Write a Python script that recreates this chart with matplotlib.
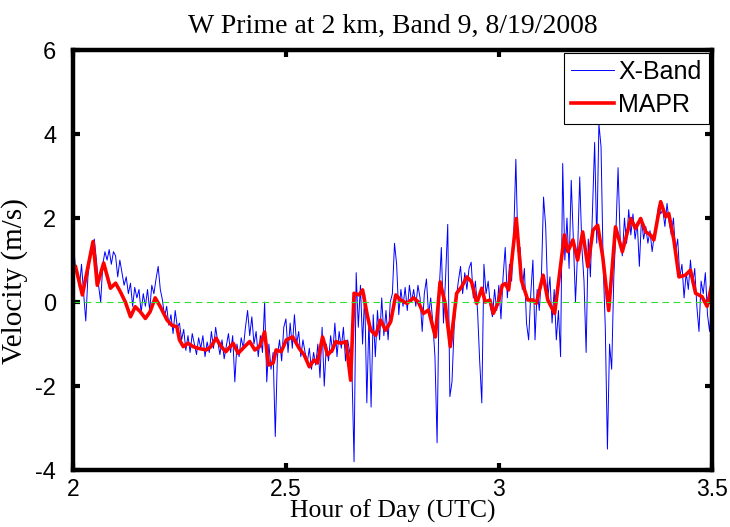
import numpy as np
import matplotlib
matplotlib.use('Agg')
import matplotlib.pyplot as plt

# X-Band samples, every 0.005 h from 2.0 to 3.5
xband_start = 2.0
xband_step = 0.005
xband_vel = [
    1.55, 0.9, 0.7, 0.35, 0.9, 0.2, -0.45, 0.6, 1.1, 1.3,
    1.5, 1.0, 0.4, 0.0, 0.9, 1.2, 1.0, 1.25, 0.9, 1.2,
    1.1, 0.6, 1.0, 0.7, 0.4, 0.6, 0.2, 0.45, -0.1, 0.35,
    0.1, 0.3, -0.25, 0.2, -0.1, 0.3, -0.2, 0.4, 0.2, 0.55,
    0.85, 0.3, 0.05, -0.35, -0.1, -0.55, -0.3, -0.75, -0.2, -0.6,
    -0.5, -0.9, -0.65, -1.15, -0.8, -1.2, -0.75, -1.0, -1.25, -0.85,
    -1.1, -0.8, -1.3, -0.95, -1.2, -0.7, -1.1, -0.6, -0.95, -1.25,
    -0.9, -1.35, -1.05, -0.75, -1.2, -0.8, -1.9, -1.0, -1.3, -0.85,
    -1.1, -0.6, -0.2, -0.8, -0.35, -1.0, -0.7, -1.3, -0.8, -1.2,
    0.0, -1.9, -1.0, -1.6, -1.2, -3.2, -1.3, -0.9, -1.4, -0.6,
    -0.4, -1.2, -0.5, -1.1, -0.3, -1.0, -0.7, -1.3, -0.9, -1.2,
    -1.45, -1.1, -1.6, -1.2, -1.5, -1.0, -1.8, -0.6, -2.0, -1.0,
    -1.4, -0.8, -1.2, -0.5, -1.3, -0.7, -1.1, -0.6, -1.4, -0.9,
    -1.2, -1.6, -3.8, 0.7, -0.6, 0.4, -1.0, 0.2, -2.4, -0.4,
    -2.5, -0.3, -1.3, -0.2, -0.9, 0.1, -0.8, -0.2, -0.9, 0.0,
    0.2, 1.4, 0.9, -0.3, 0.3, -0.1, 0.35, -0.2, 0.4, 0.0,
    0.3, -0.1, 0.4, 0.1, -0.7, 0.2, 0.55, -0.3, 0.1, -0.5,
    -1.3, -3.35, 0.3, 1.3, -0.5, 0.6, 1.85, -2.25, -1.9, -0.6,
    0.1, 0.5, 0.85, 0.2, 0.7, 0.3, 0.8, 0.95, 0.1, 0.5,
    -0.2, -1.4, -2.4, 0.9, 0.2, 0.5, -0.1, -0.35, 0.3, -0.2,
    0.4, -0.4, 0.6, 1.3, 0.1, 0.9, 0.5, 1.6, 3.4, 1.2,
    1.3, 0.3, 0.8, -0.5, -0.9, 0.2, 1.0, -0.9, 0.3, -0.2,
    0.6, 2.5, 1.8, 0.1, 0.6, -0.5, 0.3, -0.9, -0.2, -1.3,
    3.3, 1.0, 2.0, 0.8, 2.9, 1.5, 0.0, 1.2, 2.98, 1.3,
    0.5, -1.2, 1.5, 0.6, 2.2, 3.8, 1.4, 4.25, 3.7, 0.9,
    -0.6, -3.5, -1.0, -1.6, 0.6, 1.7, 3.2, 1.5, 1.1, 2.0,
    1.4, 2.2, 1.6, 2.1, 1.5, 1.9, 0.85, 2.0, 1.5, 1.8,
    1.4, 1.7, 1.2, 1.6, 1.9, 2.3, 2.1, 2.2, 1.8, 2.35,
    1.9, 1.6, 2.0, 1.2, 1.5, 0.6, 0.9, 0.1, 0.7, 0.3,
    1.0, 0.4, 0.8, -0.1, -0.7, 0.5, 0.2, 0.7, -0.3, -0.7,
    0.05,
]

# MAPR (hour, velocity)
mapr_hour = [
    2.006, 2.022, 2.047, 2.057, 2.072, 2.088, 2.100, 2.111, 2.123, 2.135,
    2.146, 2.158, 2.170, 2.181, 2.193, 2.205, 2.221, 2.232, 2.244, 2.250,
    2.259, 2.270, 2.282, 2.294, 2.313, 2.324, 2.336, 2.348, 2.359, 2.376,
    2.388, 2.403, 2.415, 2.427, 2.438, 2.450, 2.459, 2.470, 2.477, 2.489,
    2.501, 2.516, 2.531, 2.543, 2.555, 2.566, 2.574, 2.586, 2.598, 2.609,
    2.617, 2.629, 2.641, 2.652, 2.660, 2.672, 2.680, 2.691, 2.699, 2.711,
    2.722, 2.734, 2.746, 2.758, 2.769, 2.784, 2.800, 2.811, 2.823, 2.835,
    2.851, 2.862, 2.874, 2.886, 2.901, 2.913, 2.925, 2.936, 2.948, 2.960,
    2.968, 2.979, 2.987, 2.999, 3.008, 3.015, 3.023, 3.041, 3.053, 3.068,
    3.080, 3.088, 3.104, 3.115, 3.131, 3.154, 3.162, 3.174, 3.185, 3.197,
    3.209, 3.221, 3.232, 3.244, 3.258, 3.274, 3.290, 3.310, 3.321, 3.333,
    3.345, 3.356, 3.364, 3.380, 3.392, 3.399, 3.411, 3.423, 3.438, 3.450,
    3.462, 3.477, 3.489, 3.505,
]
mapr_vel = [
    0.84, 0.17, 1.44, 0.40, 0.93, 0.33, 0.45, 0.25, 0.0, -0.35,
    -0.11, -0.23, -0.39, -0.23, 0.10, -0.11, -0.43, -0.55, -0.59, -0.9,
    -1.06, -0.98, -1.06, -1.10, -1.14, -1.06, -0.86, -1.06, -1.18, -0.98,
    -1.22, -1.06, -0.94, -1.14, -1.06, -0.71, -1.5, -1.45, -1.14, -1.18,
    -0.9, -0.83, -1.10, -1.26, -1.54, -1.38, -1.45, -0.83, -1.26, -1.14,
    -0.94, -0.98, -0.94, -1.86, 0.21, 0.17, 0.29, -0.31, -0.67, -0.79,
    -0.43, -0.67, -0.47, 0.17, 0.05, -0.03, 0.10, 0.0, -0.27, -0.19,
    -0.83, 0.48, -0.03, -1.06, 0.21, 0.37, 0.6, 0.48, -0.03, 0.33,
    0.0, 0.05, -0.27, 0.0, 0.40, 0.44, 0.29, 1.99, 0.52, 0.05,
    0.05, -0.03, 0.64, 0.05, -0.27, 1.6, 1.2, 1.48, 1.0, 1.67,
    0.84, 1.71, 1.83, 1.08, -0.2, 1.79, 1.2, 1.99, 1.75, 1.99,
    1.67, 1.6, 1.48, 2.39, 2.03, 2.11, 1.48, 0.6, 0.64, 0.76,
    0.21, 0.13, -0.1, 0.64,
]

xband_hour = xband_start + xband_step * np.arange(len(xband_vel))

serif = 'Liberation Serif'
sans = 'Liberation Sans'

fig = plt.figure(figsize=(7.3, 5.27), dpi=100)
ax = fig.add_axes([0.1, 0.108, 0.875, 0.797])

ax.plot(xband_hour, xband_vel, color='#0000ff', lw=0.7, label='X-Band')
ax.plot(mapr_hour, mapr_vel, color='#ff0000', lw=2.6, label='MAPR')
ax.axhline(0, color='#33dd33', lw=0.8, ls=(0, (6, 4)))

ax.set_xlim(2, 3.5)
ax.set_ylim(-4, 6)
ax.set_xticks([2, 2.5, 3, 3.5])
ax.set_xticklabels(['2', '2.5', '3', '3.5'], fontfamily=sans, fontsize=16.5)
ax.set_yticks([-4, -2, 0, 2, 4, 6])
ax.set_yticklabels(['-4', '-2', '0', '2', '4', '6'], fontfamily=sans, fontsize=17)
ax.tick_params(direction='in', length=5, width=3, top=True, right=True)
ax.tick_params(axis='x', pad=6)
ax.tick_params(axis='y', pad=12)

for s in ax.spines.values():
    s.set_linewidth(3.2)
    s.set_color('black')

ax.set_title('W Prime at 2 km, Band 9, 8/19/2008', fontfamily=serif, fontsize=20, pad=12)
ax.set_xlabel('Hour of Day (UTC)', fontfamily=serif, fontsize=18.5, labelpad=-1)
ax.set_ylabel('Velocity (m/s)', fontfamily=serif, fontsize=21)
ax.yaxis.set_label_coords(-0.07, 0.45)

leg = ax.legend(loc='upper right', prop={'family': sans, 'size': 18}, fancybox=False,
                framealpha=1, edgecolor='black', borderaxespad=0.1, handlelength=1.7,
                borderpad=0.3, labelspacing=0.35, handletextpad=0.2)
leg.get_frame().set_linewidth(0.8)

fig.savefig('out.png', dpi=100)
